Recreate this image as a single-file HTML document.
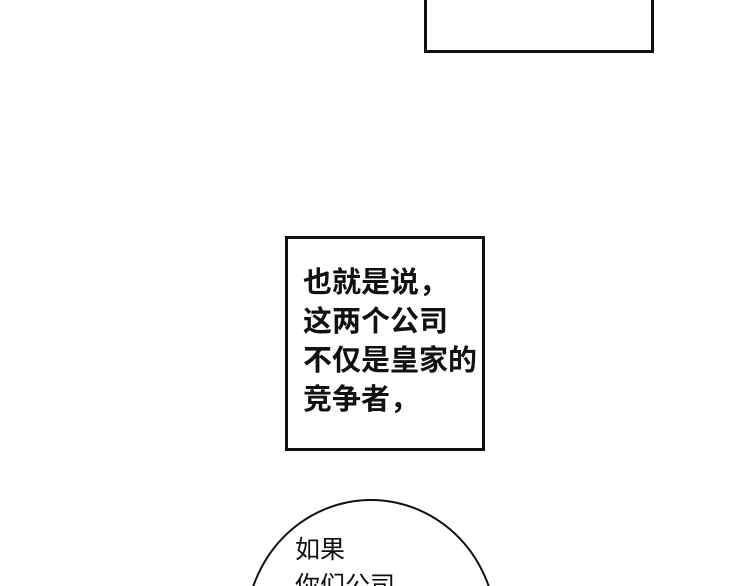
<!DOCTYPE html>
<html><head><meta charset="utf-8"><style>
html,body{margin:0;padding:0;background:#fff;width:750px;height:586px;overflow:hidden;}
body{position:relative;font-family:"Liberation Sans","Noto Sans CJK SC",sans-serif;color:#111;}
.clip{position:absolute;left:0;top:0;width:750px;height:586px;overflow:hidden;}
.b{position:absolute;box-sizing:border-box;border:3px solid #111;background:#fff;}
.t{position:absolute;left:303px;top:264px;font-size:29px;font-weight:bold;line-height:39px;white-space:nowrap;}
.e{position:absolute;left:245px;top:499px;width:252px;height:262px;border:2.5px solid #111;border-radius:50%;box-sizing:border-box;}
.t2{position:absolute;left:295px;top:532px;font-size:25px;line-height:36px;white-space:nowrap;}
</style></head><body><div class="clip">
<div class="b" style="left:424px;top:-5px;width:230px;height:58px"></div>
<div class="b" style="left:285px;top:236px;width:200px;height:215px"></div>
<div class="t">也就是说，<br>这两个公司<br>不仅是皇家的<br>竞争者，</div>
<div class="e"></div>
<div class="t2">如果<br>你们公司</div>
</div></body></html>
